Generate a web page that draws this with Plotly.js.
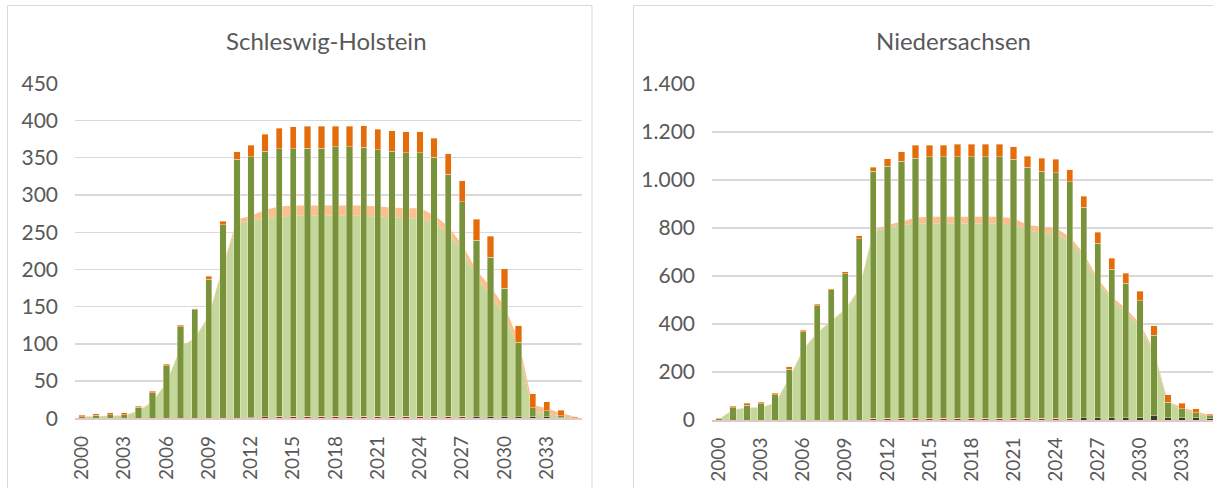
<!DOCTYPE html>
<html>
<head>
<meta charset="utf-8">
<script src="https://cdn.plot.ly/plotly-3.0.1.min.js"></script>
<style>
html,body{margin:0;padding:0;overflow:hidden;background:#fff;}
#chart{width:1220px;height:488px;}
</style>
</head>
<body>
<div id="chart"></div>
<script>
// ---------- DATA ----------
const years = ["2000","2001","2002","2003","2004","2005","2006","2007","2008","2009",
  "2010","2011","2012","2013","2014","2015","2016","2017","2018","2019",
  "2020","2021","2022","2023","2024","2025","2026","2027","2028","2029",
  "2030","2031","2032","2033","2034","2035"];
const tickYears = ["2000","2003","2006","2009","2012","2015","2018","2021","2024","2027","2030","2033"];

// Schleswig-Holstein: bar segments
const shDarkRed = [0,0,0,0,0,0,0,0,0,0, 0,0,1,2,2.5,2.5,2.5,2.5,2.5,2.5, 2.5,2.5,2.5,2.5,2.5,2.5,2.5,2.5,0,0, 0,0,0,0,0,0];
const shBlack   = [0,0,0,0,0,0,0,0,0,0, 0,0,0,0,0,0,0,0,0,0, 0,0,0,0,0,0,0,0,2.5,2.5, 2.5,2.5,2.5,2,1,0];
const shGreen   = [2,4,5,5,14.7,34.4,70.5,122.8,145.5,186.6, 260,348,350.4,356.6,359.7,359.7,360.2,360.2,362,362, 361.5,358,356.5,354.5,354.5,348,325,288.5,237,214, 172.5,99.5,11.8,8,2.5,0.5];
const shOrange  = [2,2,2.6,2.6,1.3,2.2,2.3,2.2,1.5,4, 5,10,15.6,22.8,27.3,29.5,29.5,29.9,27.7,27.7, 28.7,27.7,27.5,28,28,25.5,27.8,27.8,28,27.8, 26,22.6,18.5,12.3,7.5,1.5];
// Schleswig-Holstein: stacked areas
const shAreaGreen = [2,2.7,3,3.6,9,22,47,95,107,137, 203,262,265,268.6,271,272,272,272,272,272, 272,271,270,268.6,268.6,262.8,248.5,226,188,165.6, 138.8,94,9,6,2.5,1];
const shAreaPeach = [0.2,0.3,0.5,0.4,1,1,1,1,1,1, 2,5,7,11.4,13.4,13.7,13.7,13.7,13.7,13.7, 13.7,13.4,13,13.6,13.4,10.2,9,7,11,11.4, 11.2,11,9,7.6,4.5,1];

// Niedersachsen: bar segments
const niDarkRed = [0,0,0,0,0,0,0,0,0,0, 0,8,8,8,8,8,8,8,8,8, 8,8,8,8,8,8,0,0,0,0, 0,0,0,0,0,0];
const niBlack   = [0,0,0,0,0,0,0,0,0,0, 0,0,0,0,0,0,0,0,0,0, 0,0,0,0,0,0,10,10,10,10, 10,18,10,10,10,8];
const niGreen   = [7,51,62,68,105,212,368,476,542,610, 756,1028,1049,1071,1082,1088,1088,1088,1088,1088, 1088,1078,1045,1028,1023,985,876,726,618,559, 486,335,64,37,21,9];
const niOrange  = [3,7,7,7,7,9,7,7,5,8, 12,17,32,39,54,48,48,54,54,54, 54,53,47,54,55,49,47,47,47,42, 40,39,32,22,15,8];
// Niedersachsen: stacked areas
const niAreaGreen = [3,42,49,51,69,172,292,361,410,458, 542,785,799,812,819,819,819,819,819,819, 819,815,792,778,778,743,681,576,500,451, 389,278,69,44,28,17];
const niAreaPeach = [1,2,2,2,3,3,4,4,4,4, 6,4,13,14,25,28,28,28,28,28, 28,25,20,28,23,21,13,14,14,14, 14,14,7,9,7,4];

// ---------- COLOURS ----------
const C = {
  areaGreen:'#c4d79b', areaPeach:'#fac090',
  barGreen:'#77933c', barOrange:'#e46c0a',
  darkRed:'#8a3324', black:'#3a3a2c',
  grid:'#d9d9d9', text:'#595959'
};
const FONT = 'Lato, "Open Sans", sans-serif';

function areaTrace(y, color, xa, ya, grp){
  return {type:'scatter', mode:'none', x:years, y:y, stackgroup:grp,
    fillcolor:color, line:{width:0, shape:'linear'}, xaxis:xa, yaxis:ya, hoverinfo:'skip', showlegend:false};
}
function barTrace(y, color, xa, ya){
  return {type:'bar', x:years, y:y, marker:{color:color, line:{width:0.6, color:'rgba(255,235,215,0.7)'}},
    xaxis:xa, yaxis:ya, hoverinfo:'skip', showlegend:false};
}

const traces = [
  areaTrace(shAreaGreen, C.areaGreen, 'x','y','shA'),
  areaTrace(shAreaPeach, C.areaPeach, 'x','y','shA'),
  barTrace(shDarkRed, C.darkRed, 'x3','y3'),
  barTrace(shBlack, C.black, 'x3','y3'),
  barTrace(shGreen, C.barGreen, 'x3','y3'),
  barTrace(shOrange, C.barOrange, 'x3','y3'),
  areaTrace(niAreaGreen, C.areaGreen, 'x2','y2','niA'),
  areaTrace(niAreaPeach, C.areaPeach, 'x2','y2','niA'),
  barTrace(niDarkRed, C.darkRed, 'x4','y4'),
  barTrace(niBlack, C.black, 'x4','y4'),
  barTrace(niGreen, C.barGreen, 'x4','y4'),
  barTrace(niOrange, C.barOrange, 'x4','y4')
];

const W = 1220, H = 488;
const px = v => v / W;
const py = v => 1 - v / H;

const xBase = {
  type:'category', categoryorder:'array', categoryarray:years, range:[-0.5, 35.5],
  tickmode:'array', tickvals:tickYears, ticktext:tickYears, tickangle:-90,
  ticks:'', showgrid:false, zeroline:false,
  showline:true, linecolor:'#e3c6c6', linewidth:2,
  tickfont:{family:FONT, size:19, color:C.text}, ticklabelstandoff:8, fixedrange:true
};
const xOver = {type:'category', categoryorder:'array', categoryarray:years, range:[-0.5,35.5],
  visible:false, showgrid:false, zeroline:false, fixedrange:true};
const yBase = {
  showgrid:true, gridcolor:C.grid, gridwidth:1.3, zeroline:false, ticks:'',
  tickfont:{family:FONT, size:21, color:C.text}, ticklabelstandoff:16, fixedrange:true
};

const layout = {
  width:W, height:H, margin:{l:0,r:0,t:0,b:0},
  paper_bgcolor:'#fff', plot_bgcolor:'rgba(0,0,0,0)',
  separators:',.', barmode:'stack', bargap:0.55, showlegend:false,
  font:{family:FONT, color:C.text},
  xaxis: Object.assign({}, xBase, {domain:[px(75), px(582)], anchor:'y'}),
  yaxis: Object.assign({}, yBase, {domain:[py(418.3), py(83.3)], range:[0,450], tickvals:[0,50,100,150,200,250,300,350,400,450], anchor:'x'}),
  xaxis3: Object.assign({}, xOver, {overlaying:'x', anchor:'y3'}),
  yaxis3: {overlaying:'y', range:[0,450], visible:false, showgrid:false, zeroline:false, fixedrange:true, anchor:'x3'},
  xaxis2: Object.assign({}, xBase, {domain:[px(712), px(1217)], anchor:'y2'}),
  yaxis2: Object.assign({}, yBase, {domain:[py(420), py(84)], range:[0,1400], tickvals:[0,200,400,600,800,1000,1200,1400], tickformat:',d', anchor:'x2'}),
  xaxis4: Object.assign({}, xOver, {overlaying:'x2', anchor:'y4'}),
  yaxis4: {overlaying:'y2', range:[0,1400], visible:false, showgrid:false, zeroline:false, fixedrange:true, anchor:'x4'},
  annotations:[
    {text:'Schleswig-Holstein', xref:'paper', yref:'paper', x:px(326.5), y:py(41), xanchor:'center', yanchor:'middle',
     showarrow:false, font:{family:FONT, size:24, color:C.text}},
    {text:'Niedersachsen', xref:'paper', yref:'paper', x:px(953.3), y:py(41), xanchor:'center', yanchor:'middle',
     showarrow:false, font:{family:FONT, size:24, color:C.text}}
  ],
  shapes:[
    {type:'rect', xref:'paper', yref:'paper', x0:px(7.5), x1:px(592), y0:py(500), y1:py(5.5), line:{color:C.grid, width:1}, fillcolor:'rgba(0,0,0,0)', layer:'below'},
    {type:'rect', xref:'paper', yref:'paper', x0:px(633.5), x1:px(1260), y0:py(500), y1:py(5.5), line:{color:C.grid, width:1}, fillcolor:'rgba(0,0,0,0)', layer:'below'}
  ]
};

Plotly.newPlot('chart', traces, layout, {staticPlot:true, displayModeBar:false});
</script>
</body>
</html>
